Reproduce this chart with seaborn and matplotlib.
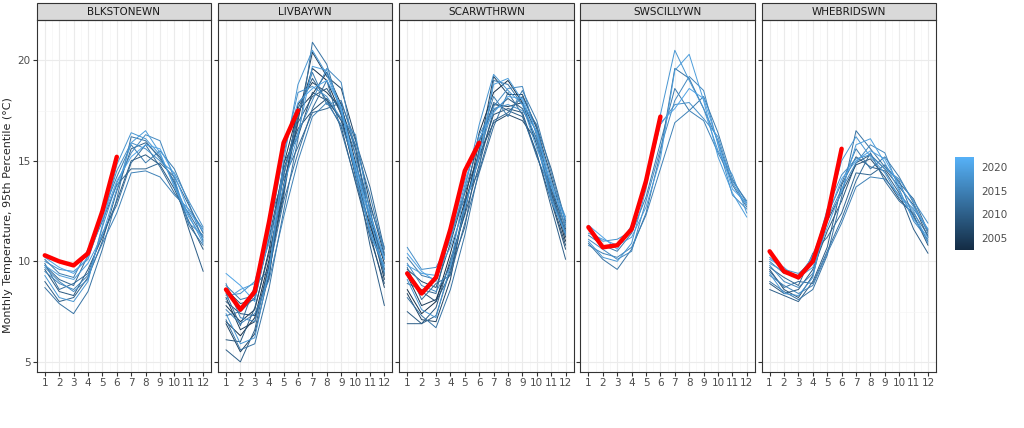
import matplotlib
matplotlib.use("Agg")
import matplotlib.pyplot as plt
import seaborn as sns
import numpy as np
import pandas as pd
from matplotlib.colors import LinearSegmentedColormap, Normalize
from matplotlib.patches import Rectangle

months = list(range(1, 13))
stations = ["BLKSTONEWN", "LIVBAYWN", "SCARWTHRWN", "SWSCILLYWN", "WHEBRIDSWN"]

blkstone = {
    2009: [9.6, 8.5, 8.3, 9.6, 11.2, 13.0, 15.0, 15.3, 14.8, 13.6, 12.0, 10.6],
    2010: [9.0, 8.0, 8.2, 9.2, 11.0, 13.5, 15.6, 15.9, 15.2, 13.9, 11.6, 9.5],
    2011: [9.8, 9.1, 8.8, 10.3, 12.0, 13.8, 14.6, 14.6, 14.9, 14.2, 12.8, 11.4],
    2012: [9.9, 8.6, 8.9, 9.4, 11.4, 12.8, 14.9, 15.8, 14.7, 13.4, 12.4, 11.2],
    2013: [8.7, 7.9, 7.4, 8.5, 10.6, 13.1, 16.2, 16.0, 15.1, 14.0, 11.8, 10.8],
    2014: [10.1, 9.4, 9.2, 10.6, 12.4, 14.2, 15.8, 14.9, 15.5, 14.6, 12.9, 11.0],
    2015: [9.5, 8.9, 8.6, 9.3, 10.9, 12.4, 14.4, 14.5, 14.2, 13.3, 12.6, 11.6],
    2016: [9.7, 9.0, 8.5, 9.1, 11.7, 13.9, 15.4, 16.3, 16.0, 14.1, 11.9, 11.3],
    2017: [10.0, 9.6, 9.5, 10.1, 12.2, 14.5, 15.9, 15.6, 15.0, 14.4, 13.0, 11.7],
    2018: [9.3, 8.2, 8.0, 9.0, 11.8, 14.8, 16.4, 16.1, 15.3, 13.8, 12.3, 10.9],
    2019: [9.8, 9.3, 9.1, 9.9, 11.3, 13.6, 15.9, 16.5, 15.4, 13.7, 12.2, 11.1],
    2020: [10.2, 9.7, 9.4, 10.2, 12.1, 14.0, 15.2, 15.8, 15.6, 14.3, 12.5, 11.5],
}
livbay = {
    2003: [7.0, 6.3, 7.2, 10.1, 14.3, 17.2, 19.6, 19.0, 17.3, 14.2, 11.8, 9.6],
    2004: [7.8, 7.0, 7.6, 10.6, 14.8, 17.5, 18.3, 19.4, 17.8, 14.9, 12.2, 9.9],
    2005: [8.2, 6.6, 7.0, 9.8, 13.4, 17.8, 18.9, 18.4, 17.6, 15.6, 12.0, 9.1],
    2006: [6.9, 5.5, 6.4, 9.4, 13.8, 17.0, 20.4, 19.2, 18.6, 16.1, 12.9, 10.3],
    2007: [8.6, 7.9, 8.1, 11.2, 14.6, 16.6, 17.5, 18.1, 17.0, 14.6, 11.4, 8.7],
    2008: [8.0, 7.4, 7.3, 9.2, 14.9, 16.2, 18.4, 18.0, 16.7, 13.9, 11.2, 8.9],
    2009: [6.1, 6.0, 7.7, 10.4, 13.6, 16.9, 18.2, 18.6, 17.4, 15.3, 12.6, 9.3],
    2010: [5.6, 5.0, 6.6, 9.9, 13.2, 17.6, 19.1, 18.0, 17.1, 14.4, 10.8, 7.8],
    2011: [7.3, 7.5, 8.2, 12.0, 14.1, 15.7, 17.4, 17.6, 17.9, 16.0, 13.7, 10.6],
    2012: [8.4, 6.8, 8.8, 9.6, 13.0, 15.4, 17.6, 19.0, 16.5, 14.0, 11.6, 9.4],
    2013: [7.1, 5.6, 5.9, 8.7, 12.5, 16.1, 20.9, 19.8, 17.3, 15.8, 11.9, 10.1],
    2014: [8.8, 8.1, 8.3, 11.1, 14.2, 17.3, 19.4, 17.8, 18.0, 15.7, 13.3, 10.4],
    2015: [7.6, 6.9, 7.4, 9.1, 12.2, 15.0, 17.2, 17.9, 16.8, 14.8, 12.7, 10.7],
    2016: [8.9, 7.2, 7.0, 9.5, 14.5, 16.4, 18.0, 19.6, 18.9, 15.2, 11.3, 9.8],
    2017: [8.3, 8.4, 9.0, 11.5, 15.3, 18.4, 18.7, 18.2, 17.1, 16.3, 12.4, 10.2],
    2018: [7.4, 5.9, 6.2, 9.6, 15.0, 18.8, 20.5, 19.3, 17.5, 14.5, 12.1, 9.5],
    2019: [8.1, 8.6, 8.9, 10.9, 13.7, 16.3, 19.7, 19.5, 17.6, 14.3, 11.5, 9.7],
    2020: [9.4, 8.8, 8.0, 11.4, 15.6, 17.9, 18.6, 19.0, 17.7, 14.7, 12.3, 10.1],
}
scarwthr = {
    2003: [8.6, 7.4, 8.0, 10.4, 13.0, 16.4, 18.4, 19.0, 17.9, 15.8, 13.4, 11.0],
    2005: [9.3, 7.8, 8.1, 9.9, 12.4, 16.0, 17.8, 17.7, 17.9, 16.4, 13.6, 11.2],
    2006: [8.4, 7.1, 7.0, 9.1, 12.8, 15.5, 19.2, 18.3, 18.3, 16.6, 14.2, 11.6],
    2007: [9.6, 9.0, 8.7, 10.9, 13.4, 15.3, 16.9, 17.3, 17.0, 16.0, 13.1, 10.8],
    2008: [9.5, 8.5, 8.0, 9.4, 12.9, 15.1, 17.3, 17.6, 17.4, 15.3, 13.0, 10.6],
    2009: [7.5, 6.9, 7.7, 10.1, 12.3, 14.8, 17.5, 18.1, 17.6, 16.1, 13.8, 11.4],
    2010: [6.9, 6.9, 7.3, 9.6, 11.7, 15.6, 17.9, 17.5, 17.2, 15.4, 12.7, 10.1],
    2011: [8.9, 8.6, 8.4, 11.5, 13.1, 14.5, 17.0, 17.4, 18.2, 16.7, 14.6, 12.0],
    2012: [9.7, 8.1, 8.9, 9.3, 11.9, 14.4, 16.7, 18.4, 17.3, 15.2, 13.5, 11.8],
    2013: [8.2, 7.3, 6.7, 8.6, 11.3, 14.6, 19.0, 18.8, 17.8, 16.8, 13.3, 11.5],
    2014: [10.2, 9.3, 9.1, 11.2, 13.5, 15.9, 18.2, 17.2, 18.5, 17.0, 14.4, 11.9],
    2016: [9.9, 8.8, 8.5, 9.7, 12.6, 15.4, 17.7, 18.6, 18.7, 16.2, 13.2, 11.3],
    2017: [10.7, 9.6, 9.7, 11.0, 13.8, 16.3, 17.6, 17.8, 17.5, 16.5, 14.0, 12.2],
    2018: [9.1, 7.6, 7.2, 9.8, 13.6, 16.8, 19.3, 18.5, 17.8, 15.6, 13.9, 11.7],
    2019: [9.8, 9.4, 9.3, 10.7, 12.7, 15.2, 18.8, 19.1, 18.0, 15.9, 13.0, 11.4],
    2020: [10.4, 9.5, 9.0, 11.3, 14.0, 16.1, 17.4, 18.2, 18.1, 16.4, 13.7, 12.1],
}
swscilly = {
    2013: [10.9, 10.1, 9.6, 10.6, 12.4, 15.4, 19.6, 19.1, 17.6, 16.0, 13.8, 12.7],
    2014: [11.3, 10.8, 10.5, 11.4, 13.2, 15.9, 18.6, 17.5, 18.2, 16.4, 14.1, 12.9],
    2015: [10.8, 10.4, 10.2, 10.7, 12.3, 14.6, 16.9, 17.5, 17.0, 15.4, 14.0, 13.0],
    2016: [11.1, 10.6, 10.1, 10.5, 13.0, 15.6, 18.0, 19.2, 18.5, 15.8, 13.3, 12.6],
    2017: [11.6, 11.0, 11.1, 11.5, 13.9, 16.8, 17.8, 17.9, 17.1, 16.2, 13.9, 12.8],
    2018: [11.0, 10.2, 10.0, 10.9, 13.6, 17.3, 20.5, 19.0, 17.6, 15.5, 14.3, 12.4],
    2019: [11.4, 11.1, 10.8, 11.2, 12.7, 15.1, 19.5, 20.3, 18.0, 15.2, 13.4, 12.2],
    2020: [11.8, 11.2, 10.6, 11.8, 14.1, 16.9, 17.6, 18.6, 18.1, 15.9, 13.6, 12.9],
}
whebrids = {
    2008: [9.6, 8.6, 8.2, 9.3, 12.0, 13.4, 14.8, 15.1, 14.2, 13.1, 12.3, 10.8],
    2009: [8.9, 8.4, 8.6, 9.6, 11.5, 13.0, 14.9, 15.3, 14.6, 13.7, 12.8, 11.2],
    2010: [8.6, 8.3, 8.0, 9.0, 10.7, 13.8, 15.2, 14.7, 14.5, 13.4, 11.6, 10.4],
    2011: [9.7, 9.2, 8.8, 10.4, 11.2, 12.4, 14.4, 14.3, 14.8, 13.9, 13.1, 11.5],
    2012: [9.5, 8.7, 9.0, 8.9, 10.5, 12.1, 14.0, 15.4, 14.0, 13.0, 12.4, 11.3],
    2013: [9.0, 8.5, 8.1, 8.6, 10.3, 13.2, 16.5, 15.6, 14.7, 14.0, 12.2, 11.0],
    2014: [10.0, 9.4, 9.3, 10.2, 12.3, 13.9, 15.6, 14.6, 15.2, 14.2, 12.9, 11.4],
    2015: [9.3, 8.8, 8.4, 8.8, 10.4, 11.9, 13.7, 14.2, 14.1, 13.3, 12.6, 11.6],
    2016: [9.8, 9.0, 8.7, 9.4, 12.1, 13.6, 14.9, 15.8, 15.4, 13.6, 12.0, 11.1],
    2017: [10.2, 9.6, 9.4, 10.0, 12.6, 14.3, 15.1, 15.3, 14.6, 14.1, 13.0, 11.9],
    2018: [9.4, 8.4, 8.3, 9.2, 12.4, 15.0, 16.2, 15.2, 14.4, 13.2, 12.5, 10.9],
    2019: [9.9, 9.5, 9.2, 9.7, 11.7, 13.5, 15.8, 16.1, 14.9, 13.5, 12.1, 11.2],
    2020: [10.1, 9.7, 9.1, 10.3, 12.2, 14.1, 15.0, 15.5, 15.1, 13.8, 12.7, 11.6],
}
# current year (Jan-Jun), drawn in red
current = {
    "BLKSTONEWN": [10.3, 10.0, 9.8, 10.4, 12.5, 15.2],
    "LIVBAYWN": [8.6, 7.6, 8.5, 12.0, 15.9, 17.5],
    "SCARWTHRWN": [9.4, 8.4, 9.2, 11.6, 14.5, 15.9],
    "SWSCILLYWN": [11.7, 10.7, 10.8, 11.6, 14.0, 17.2],
    "WHEBRIDSWN": [10.5, 9.5, 9.2, 10.0, 12.2, 15.6],
}

history = dict(zip(stations, [blkstone, livbay, scarwthr, swscilly, whebrids]))
rows = []
for st, d in history.items():
    for yr, vals in d.items():
        for m, v in zip(months, vals):
            rows.append((st, yr, m, v))
df = pd.DataFrame(rows, columns=["station", "year", "month", "temp"])

cmap = LinearSegmentedColormap.from_list("gg", ["#132B43", "#56B1F7"])
norm = Normalize(vmin=2002.5, vmax=2022)

sns.set_style("white")
fig, axes = plt.subplots(1, 5, figsize=(10.24, 4.28), dpi=100, sharey=True)
fig.subplots_adjust(left=0.036, right=0.914, bottom=0.131, top=0.953, wspace=0.04)

for ax, st in zip(axes, stations):
    sub = df[df.station == st]
    sns.lineplot(data=sub, x="month", y="temp", hue="year", units="year",
                 estimator=None, palette=cmap, hue_norm=norm, lw=0.7,
                 legend=False, ax=ax)
    sns.lineplot(x=months[:6], y=current[st], color="red", lw=3.2, ax=ax)
    ax.set_xlim(0.45, 12.55)
    ax.set_ylim(4.5, 22.0)
    ax.set_xticks(months)
    ax.set_yticks([5, 10, 15, 20])
    ax.set_xticks(np.arange(1.5, 12, 1), minor=True)
    ax.set_yticks([7.5, 12.5, 17.5], minor=True)
    ax.grid(True, which="major", color="#EBEBEB", lw=0.8)
    ax.grid(True, which="minor", color="#F5F5F5", lw=0.5)
    ax.set_axisbelow(True)
    for s in ax.spines.values():
        s.set_color("#333333")
        s.set_linewidth(0.8)
    ax.tick_params(axis="both", which="major", labelsize=7.5, colors="#4D4D4D",
                   length=3, pad=1.5, left=True, bottom=True, color="#333333")
    ax.tick_params(which="minor", length=0)
    ax.set_xlabel("")
    ax.set_ylabel("")
    ax.add_patch(Rectangle((0, 1.0), 1, 0.048, transform=ax.transAxes,
                           facecolor="#D9D9D9", edgecolor="#333333", lw=0.8,
                           clip_on=False))
    ax.text(0.5, 1.024, st, transform=ax.transAxes, ha="center", va="center",
            fontsize=7.5, color="#1A1A1A")

fig.text(0.008, 0.497, "Monthly Temperature, 95th Percentile (\u00b0C)",
         rotation=90, ha="center", va="center", fontsize=8)

cax = fig.add_axes([0.933, 0.415, 0.018, 0.218])
sm = plt.cm.ScalarMappable(cmap=cmap, norm=norm)
cb = fig.colorbar(sm, cax=cax, ticks=[2005, 2010, 2015, 2020])
cb.outline.set_visible(False)
cb.ax.tick_params(labelsize=7.5, colors="#4D4D4D", length=2)
cb.ax.tick_params(color="white")

fig.savefig("out.png", dpi=100)
